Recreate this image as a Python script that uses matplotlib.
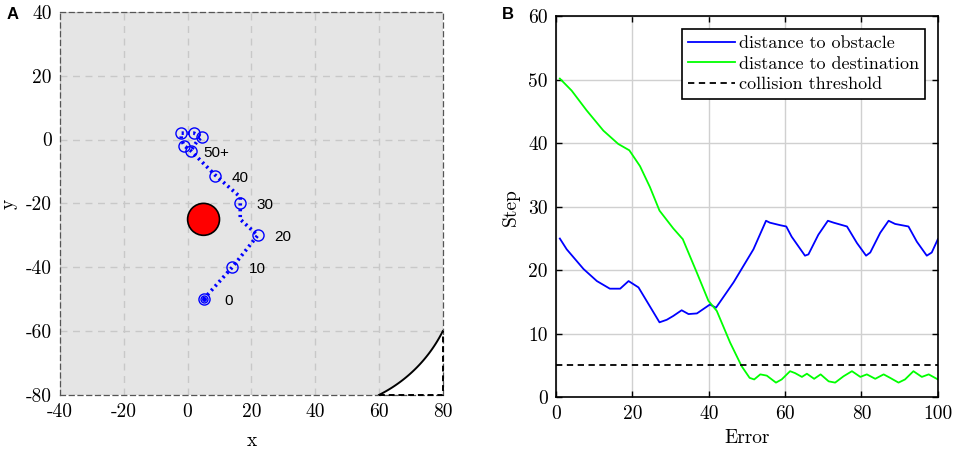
import numpy as np
import matplotlib
matplotlib.use('Agg')
from matplotlib import pyplot as plt
from matplotlib.patches import Circle, Polygon

plt.rcParams['font.family'] = 'cmr10'
plt.rcParams['axes.unicode_minus'] = False
plt.rcParams['mathtext.fontset'] = 'cm'

#### D A T A _ P A N E L _ A (trajectory)
traj_x = [5, 14, 22, 16.5, 16.5, 8.5, 1, -1, -2, -2, 2, 4.5, 3, 1]
traj_y = [-50, -40, -30, -25, -18, -11, -3.5, -2, 0, 2, 2, 0.8, -0.5, -3.5]

mark_x = [5, 14, 22, 16.4, 8.6, 1, -1, -2, 2, 4.5]
mark_y = [-50, -40, -30, -20, -11.3, -3.5, -2, 2, 2, 0.8]
step_labels = ['0', '10', '20', '30', '40', '50+']

obstacle_xy = (5, -25)
obstacle_r = 5

# unreachable corner (white)
corner_center = (40, -40)
corner_from = (60, -80)
corner_to = (80, -60)

#### D A T A _ P A N E L _ B
obs_x = [1, 2.8, 7.2, 10.7, 14.1, 16.8, 19, 20.3, 21.6, 27.1, 29, 30.7, 32.9, 34.7, 36.9,
         40.3, 41.9, 46.5, 51.7, 55, 56, 58.7, 60.3, 61.7, 65.2, 66.1, 68.7, 71.2, 72.7,
         76.2, 78.8, 81.2, 82.3, 84.9, 87.1, 88.8, 92.3, 94.5, 97.1, 98.4, 100]
obs_y = [25, 23.3, 20.2, 18.3, 17.1, 17.1, 18.3, 17.8, 17.3, 11.8, 12.2, 12.8, 13.7, 13.1, 13.2,
         14.6, 14.1, 18.1, 23.3, 27.8, 27.5, 27.1, 26.9, 25.3, 22.3, 22.5, 25.6, 27.8, 27.5,
         26.9, 24.3, 22.3, 22.8, 25.9, 27.8, 27.3, 26.9, 24.5, 22.3, 22.8, 24.9]

dest_x = [1, 4.1, 8, 12.4, 16.3, 19.2, 22, 24.6, 27.1, 30.7, 33.2, 36.9, 39.9, 42.1, 45.6,
          48.6, 50.7, 51.9, 53.5, 55.2, 57.6, 59.1, 61.3, 62.6, 64.4, 65.7, 67.6, 69.3,
          71.4, 73.1, 75.3, 77.5, 79.7, 81.4, 83.6, 85.8, 87.5, 89.7, 91.4, 93.6, 95.8,
          97.6, 100]
dest_y = [50.2, 48.3, 45.2, 42, 39.9, 38.9, 36.4, 33.1, 29.4, 26.6, 24.9, 19.6, 15.2, 13.6, 8.6,
          4.9, 3.05, 2.8, 3.6, 3.4, 2.3, 2.8, 4.1, 3.8, 3.2, 3.7, 2.9, 3.6,
          2.5, 2.3, 3.3, 4.1, 3.2, 3.6, 2.9, 3.6, 3.05, 2.3, 2.8, 4.1, 3.2,
          3.6, 2.8]
threshold = 5

blue = '#0000ff'
green = '#00ff00'

fig = plt.figure(figsize=(9.57, 4.55), dpi=100)
ax1 = fig.add_axes([0.0627, 0.132, 0.400, 0.842])
ax2 = fig.add_axes([0.581, 0.127, 0.399, 0.837])

# P A N E L _ A
ax1.set_facecolor('#e5e5e5')
ax1.set_xlim(-40, 80)
ax1.set_ylim(-80, 40)
ax1.set_xticks(np.arange(-40, 81, 20))
ax1.set_yticks(np.arange(-80, 41, 20))
ax1.grid(True, color='#c8c8c8', linestyle=(0, (5, 4)), linewidth=1.0)
ax1.set_axisbelow(True)
ax1.tick_params(length=0, labelsize=14, pad=6)
for sp in ax1.spines.values():
    sp.set_color('#555555')
    sp.set_linestyle((0, (4, 3)))
    sp.set_linewidth(0.9)

r = np.hypot(corner_from[0] - corner_center[0], corner_from[1] - corner_center[1])
a0 = np.arctan2(corner_from[1] - corner_center[1], corner_from[0] - corner_center[0])
a1 = np.arctan2(corner_to[1] - corner_center[1], corner_to[0] - corner_center[0])
th = np.linspace(a0, a1, 60)
arc_x = corner_center[0] + r * np.cos(th)
arc_y = corner_center[1] + r * np.sin(th)
poly = np.column_stack([np.append(arc_x, corner_to[0]), np.append(arc_y, corner_from[1])])
ax1.add_patch(Polygon(poly, closed=True, facecolor='white', edgecolor='none', zorder=2))
ax1.plot(arc_x, arc_y, color='black', lw=1.4, zorder=3)
ax1.plot([corner_from[0], corner_to[0], corner_to[0]], [corner_from[1], corner_from[1], corner_to[1]],
         color='black', lw=1.4, ls=(0, (3, 2)), zorder=3, clip_on=False)

ax1.add_patch(Circle(obstacle_xy, obstacle_r, facecolor='red', edgecolor='black', lw=1.2, zorder=4))
ax1.plot(traj_x, traj_y, color=blue, lw=2.6, ls=(0, (0.6, 1.0)), zorder=5)
ax1.plot(mark_x, mark_y, 'o', mfc='none', mec=blue, ms=8, mew=1.0, zorder=6)
ax1.plot(mark_x[:1], mark_y[:1], 'o', mfc='none', mec=blue, ms=5, mew=1.0, zorder=6)
ax1.plot(mark_x[:1], mark_y[:1], 'o', color=blue, ms=2.5, zorder=6)
for lab, mx, my in zip(step_labels, mark_x, mark_y):
    ax1.annotate(lab, (mx, my), xytext=(25, -2), textcoords='offset pixels',
                 ha='center', va='center', fontsize=11, family='Liberation Sans', zorder=7)
ax1.set_xlabel('x', fontsize=14, labelpad=8)
ax1.set_ylabel('y', fontsize=14, labelpad=6)

# P A N E L _ B
ax2.plot(obs_x, obs_y, color=blue, lw=1.3, label='distance to obstacle')
ax2.plot(dest_x, dest_y, color=green, lw=1.3, label='distance to destination')
ax2.plot([0, 100], [threshold, threshold], color='black', lw=1.3, ls=(0, (3.5, 2.5)),
         label='collision threshold')
ax2.set_xlim(0, 100)
ax2.set_ylim(0, 60)
ax2.set_xticks(np.arange(0, 101, 20))
ax2.set_yticks(np.arange(0, 61, 10))
ax2.grid(True, color='#d0d0d0', linewidth=1.0)
ax2.set_axisbelow(True)
ax2.tick_params(direction='in', top=True, right=True, length=4, width=1, labelsize=14, pad=6)
for sp in ax2.spines.values():
    sp.set_linewidth(1.2)
ax2.set_xlabel('Error', fontsize=14, labelpad=4)
ax2.set_ylabel('Step', fontsize=14, labelpad=6)
leg = ax2.legend(loc='upper right', fontsize=13, fancybox=False, framealpha=1,
                 edgecolor='black', handlelength=2.6, handletextpad=0.2,
                 borderpad=0.35, labelspacing=0.28, borderaxespad=0.7)
leg.get_frame().set_linewidth(1.2)

fig.text(0.007, 0.985, 'A', fontsize=12, fontweight='bold', family='Liberation Sans', va='top')
fig.text(0.524, 0.985, 'B', fontsize=12, fontweight='bold', family='Liberation Sans', va='top')

plt.savefig('out.png', dpi=100)
